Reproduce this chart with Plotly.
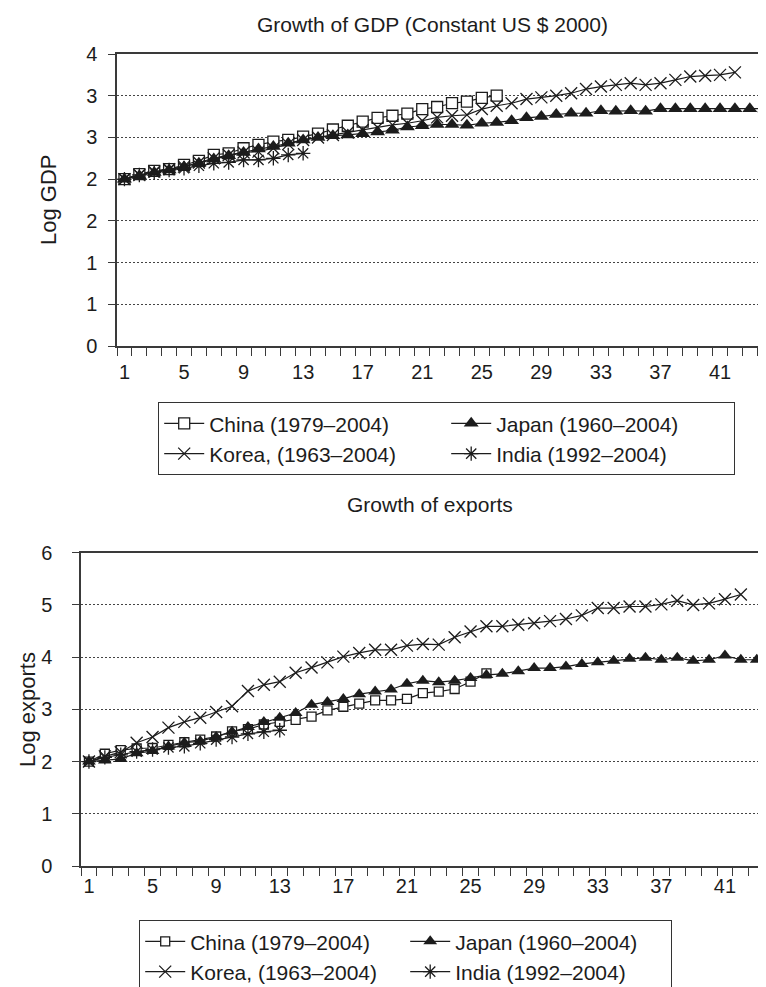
import plotly.graph_objects as go

W, H = 766, 987

# ---------------- data ----------------
series_names = ["China (1979–2004)", "Japan (1960–2004)", "Korea, (1963–2004)", "India (1992–2004)"]

china_gdp = [2.0, 2.06, 2.10, 2.12, 2.17, 2.22, 2.29, 2.31, 2.37, 2.41, 2.45, 2.47, 2.51,
             2.545, 2.595, 2.64, 2.69, 2.735, 2.76, 2.785, 2.84, 2.865, 2.91, 2.93, 2.975, 3.0]
japan_gdp = [2.0, 2.04, 2.08, 2.11, 2.15, 2.19, 2.24, 2.28, 2.32, 2.36, 2.39, 2.43, 2.47,
             2.50, 2.52, 2.53, 2.545, 2.565, 2.585, 2.625, 2.64, 2.655, 2.655, 2.645, 2.67,
             2.68, 2.70, 2.735, 2.75, 2.775, 2.79, 2.79, 2.82, 2.815, 2.82, 2.815, 2.845,
             2.845, 2.845, 2.845, 2.845, 2.845, 2.845, 2.84, 2.845]
korea_gdp = [2.0, 2.05, 2.09, 2.12, 2.15, 2.20, 2.25, 2.29, 2.32, 2.33, 2.37, 2.42, 2.47,
             2.50, 2.53, 2.56, 2.59, 2.62, 2.65, 2.67, 2.70, 2.74, 2.76, 2.77, 2.84, 2.88,
             2.91, 2.96, 2.98, 3.0, 3.03, 3.08, 3.11, 3.13, 3.15, 3.13, 3.15, 3.19, 3.23,
             3.24, 3.25, 3.28]
india_gdp = [2.0, 2.05, 2.08, 2.11, 2.13, 2.16, 2.19, 2.20, 2.23, 2.23, 2.25, 2.29, 2.31]

china_exp = [2.0, 2.15, 2.22, 2.25, 2.26, 2.32, 2.37, 2.42, 2.48, 2.58, 2.62, 2.71, 2.76,
             2.80, 2.86, 2.98, 3.05, 3.11, 3.17, 3.17, 3.20, 3.31, 3.34, 3.39, 3.53, 3.69]
japan_exp = [2.0, 2.02, 2.05, 2.16, 2.2, 2.29, 2.36, 2.39, 2.47, 2.57, 2.66, 2.76, 2.84, 2.93,
             3.09, 3.14, 3.20, 3.29, 3.34, 3.38, 3.49, 3.55, 3.52, 3.55, 3.60, 3.66, 3.68,
             3.73, 3.79, 3.79, 3.82, 3.87, 3.90, 3.93, 3.97, 3.99, 3.95, 3.99, 3.93, 3.95,
             4.03, 3.95, 3.95, 4.03, 4.0]
korea_exp = [2.0, 2.1, 2.18, 2.36, 2.47, 2.65, 2.76, 2.84, 2.95, 3.06, 3.35, 3.47, 3.53, 3.70,
             3.80, 3.90, 4.01, 4.08, 4.14, 4.14, 4.22, 4.25, 4.24, 4.38, 4.49, 4.59, 4.59,
             4.62, 4.65, 4.69, 4.73, 4.80, 4.94, 4.94, 4.97, 4.97, 5.01, 5.08, 5.0, 5.03,
             5.11, 5.20]
india_exp = [2.0, 2.08, 2.13, 2.19, 2.23, 2.27, 2.29, 2.35, 2.42, 2.47, 2.53, 2.57, 2.6]

x_tick_vals = [1, 5, 9, 13, 17, 21, 25, 29, 33, 37, 41]
gdp_tick_vals = [0, 0.5, 1, 1.5, 2, 2.5, 3, 3.5]
gdp_tick_text = ["0", "1", "1", "2", "2", "3", "3", "4"]
exp_tick_vals = [0, 1, 2, 3, 4, 5, 6]

titles = ["Growth of GDP (Constant US $ 2000)", "Growth of exports"]
y_titles = ["Log GDP", "Log exports"]

# ---------------- styling ----------------
FONT = "Liberation Sans, Arial, sans-serif"
INK = "#1c1c1c"
AX = "#3a3a3a"

def px_x(v):
    return v / W

def px_y(v):
    return 1 - v / H

fig = go.Figure()

def add_series(ys, name, idx, xa, ya, legend, big):
    styles = [
        dict(symbol="square", color="white", size=11 if big else 9, line=dict(color=INK, width=1.3)),
        dict(symbol="triangle-up", color=INK, size=13 if big else 12, line=dict(color=INK, width=0)),
        dict(symbol="x-thin-open", color=INK, size=12, line=dict(color=INK, width=1.3)),
        dict(symbol="asterisk-open", color=INK, size=12, line=dict(color=INK, width=1.3)),
    ]
    fig.add_trace(go.Scatter(
        x=list(range(1, len(ys) + 1)), y=ys, name=name,
        mode="lines+markers", xaxis=xa, yaxis=ya, legend=legend,
        line=dict(color=INK, width=1.2), marker=styles[idx],
    ))

for i, ys in enumerate([china_gdp, japan_gdp, korea_gdp, india_gdp]):
    add_series(ys, series_names[i], i, "x", "y", "legend", True)
for i, ys in enumerate([china_exp, japan_exp, korea_exp, india_exp]):
    add_series(ys, series_names[i], i, "x2", "y2", "legend2", False)

# plot geometry (pixels)
top_left, top_top, top_bottom, top_step = 109, 46, 338, 14.89
bot_left, bot_top, bot_bottom, bot_step = 73, 544.7, 858, 15.9

def xaxis_cfg(left, step, standoff):
    return dict(
        domain=[px_x(left), 1], range=[0.5, 0.5 + (W - left) / step],
        tickmode="array", tickvals=x_tick_vals, ticks="outside", ticklen=0,
        tickcolor="rgba(0,0,0,0)", ticklabelstandoff=standoff,
        minor=dict(tickmode="linear", tick0=0.5, dtick=1, ticks="outside", ticklen=8,
                   tickcolor=AX, tickwidth=1.2, showgrid=False),
        showline=True, linecolor=AX, linewidth=1.5, mirror=True,
        showgrid=False, zeroline=False,
        tickfont=dict(family=FONT, size=20, color=INK),
    )

def yaxis_cfg(top, bottom, rng, vals, text, anchor, standoff):
    d = dict(
        domain=[px_y(bottom), px_y(top)], range=rng, anchor=anchor,
        tickmode="array", tickvals=vals, ticks="outside", ticklen=7,
        tickcolor=AX, tickwidth=1.2, ticklabelstandoff=standoff,
        showline=True, linecolor=AX, linewidth=1.5,
        showgrid=True, gridcolor="#444", gridwidth=1, griddash="2px,2px",
        zeroline=False,
        tickfont=dict(family=FONT, size=20, color=INK),
    )
    if text is not None:
        d["ticktext"] = text
    return d

legend_common = dict(
    xref="container", yref="container", xanchor="left", yanchor="top",
    orientation="h", bordercolor="#333", borderwidth=1.2, bgcolor="white",
    font=dict(family=FONT, size=21, color=INK), itemwidth=40,
    traceorder="normal",
)

fig.update_layout(
    width=W, height=H,
    margin=dict(l=0, r=0, t=0, b=0, autoexpand=False),
    paper_bgcolor="white", plot_bgcolor="white",
    font=dict(family=FONT, color=INK),
    showlegend=True,
    xaxis=xaxis_cfg(top_left, top_step, 7) | dict(anchor="y"),
    yaxis=yaxis_cfg(top_top, top_bottom, [0, 3.5], gdp_tick_vals, gdp_tick_text, "x", 7),
    xaxis2=xaxis_cfg(bot_left, bot_step, 1) | dict(anchor="y2"),
    yaxis2=yaxis_cfg(bot_top, bot_bottom, [0, 6], exp_tick_vals, None, "x2", 16),
    legend=legend_common | dict(x=px_x(150), y=px_y(394), entrywidth=232),
    legend2=legend_common | dict(x=px_x(131), y=px_y(912), entrywidth=210),
)

annots = [
    dict(text=titles[0], x=px_x(424), y=px_y(16), font=dict(size=21)),
    dict(text=titles[1], x=px_x(422), y=px_y(497), font=dict(size=21)),
    dict(text=y_titles[0], x=px_x(40), y=px_y(192), textangle=-90, font=dict(size=22)),
    dict(text=y_titles[1], x=px_x(19), y=px_y(702), textangle=-90, font=dict(size=22)),
]
for a in annots:
    a.update(xref="paper", yref="paper", showarrow=False, xanchor="center", yanchor="middle")
    a["font"] = dict(family=FONT, color=INK, **a["font"])
    fig.add_annotation(**a)

fig.write_html("out.html")
